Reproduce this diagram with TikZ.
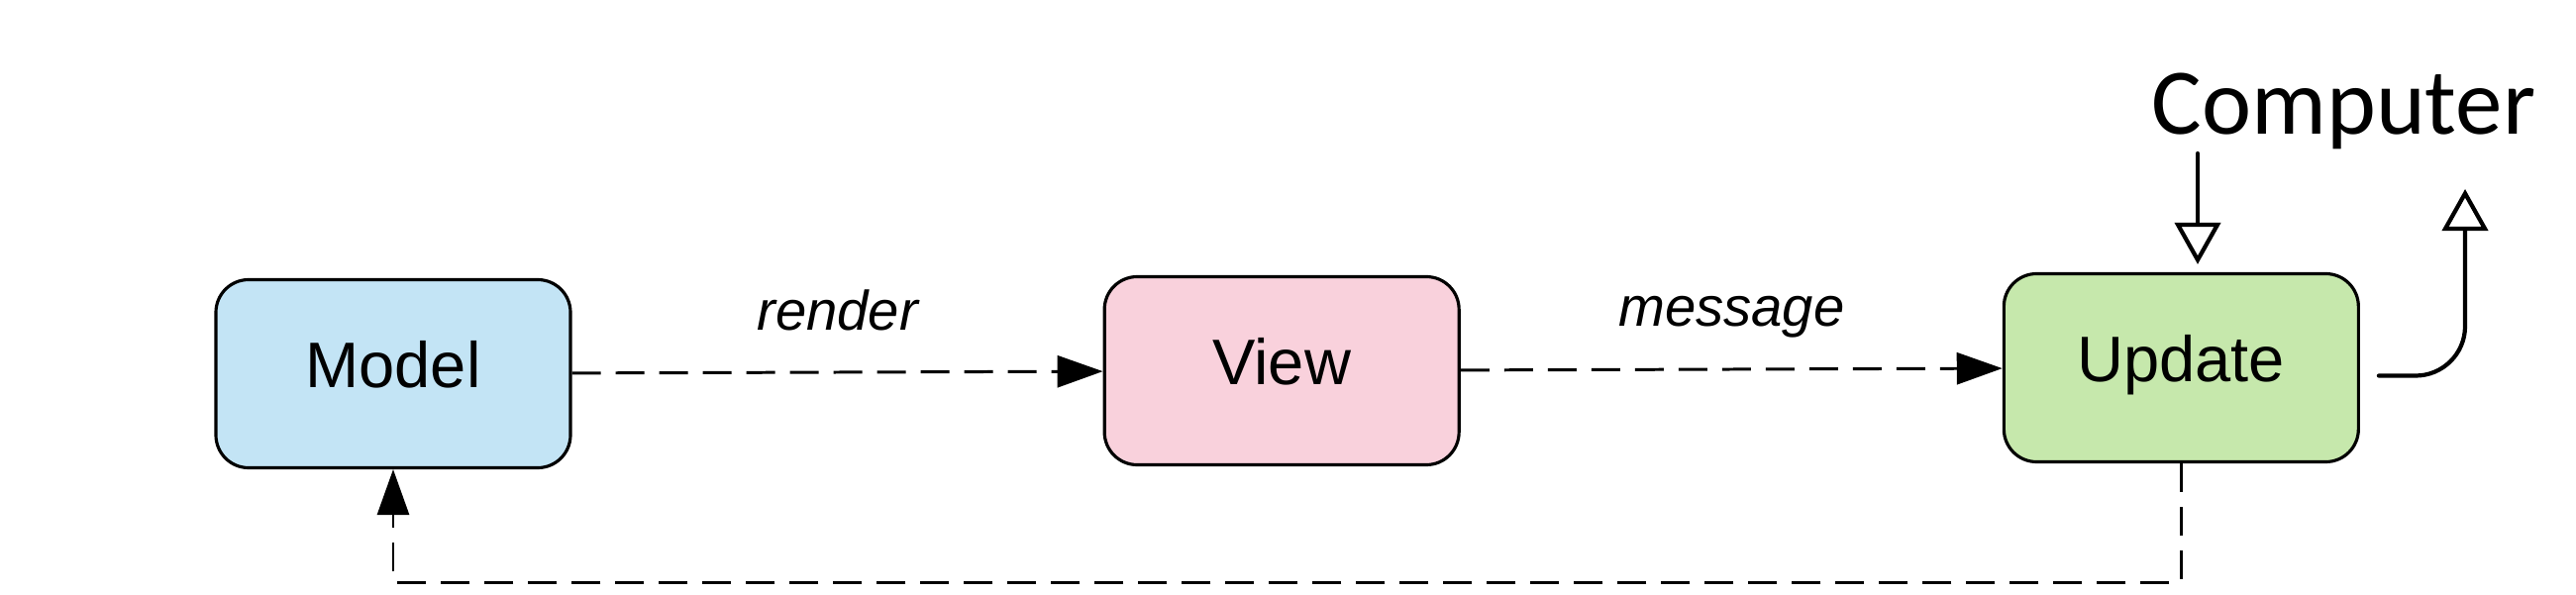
\documentclass[tikz,border=0pt]{standalone}
\usepackage{fontspec}
\setmainfont{Liberation Sans}
\newfontfamily\compfont{Carlito}
\usepackage{xcolor}
\usepackage{tikz}
\usetikzlibrary{arrows.meta,positioning}

\definecolor{modelblue}{HTML}{C3E4F5}
\definecolor{viewpink}{HTML}{F9D1DC}
\definecolor{updgreen}{HTML}{C6E8AC}

\begin{document}
\begin{tikzpicture}[
    box/.style={draw, line width=0.9pt, rounded corners=0.33cm, align=center, minimum width=3.58cm, minimum height=1.90cm, inner sep=0pt, text height=0.42cm, text depth=0.14cm, font=\fontsize{18.5}{22}\selectfont},
    lbl/.style={anchor=base, inner sep=0pt, yshift=0.43cm, font=\itshape\fontsize{16}{19}\selectfont},
    flow/.style={-{Triangle[length=4.6mm, width=3.2mm]}, line width=0.85pt, dash pattern=on 2.9mm off 1.5mm},
    hand/.style={-{Triangle[open, length=4.2mm, width=4.6mm]}, line width=1.2pt, line cap=round, line join=round}
]
\useasboundingbox (0,0) rectangle (26.01,6.00);

\node[box, fill=modelblue] (mdl) at (3.97,2.225) {Model};
\node[box, fill=viewpink, right=5.36cm of mdl, yshift=0.03cm] (view) {View};
\node[box, fill=updgreen, right=5.47cm of view, yshift=0.03cm] (upd) {Update};

\node[anchor=base, inner sep=0pt, font=\compfont\fontsize{27}{32}\selectfont] (comp) at (23.665,4.65) {Computer};
\coordinate (cin) at (22.19,4.45);
\coordinate (cout) at (24.89,4.09);

\draw[flow] (mdl) -- node[lbl] (render) {render} (view);
\draw[flow] (view) -- node[lbl] (msg) {message} (upd);
\draw[flow] (upd.south) -- ++(0,-1.2) -| (mdl.south);

\draw[hand, shorten >=0.08cm] (cin) -- (cin |- upd.north);
\draw[hand, rounded corners=0.5cm] ([xshift=0.19cm, yshift=-0.08cm]upd.east) -| (cout);
\end{tikzpicture}
\end{document}
